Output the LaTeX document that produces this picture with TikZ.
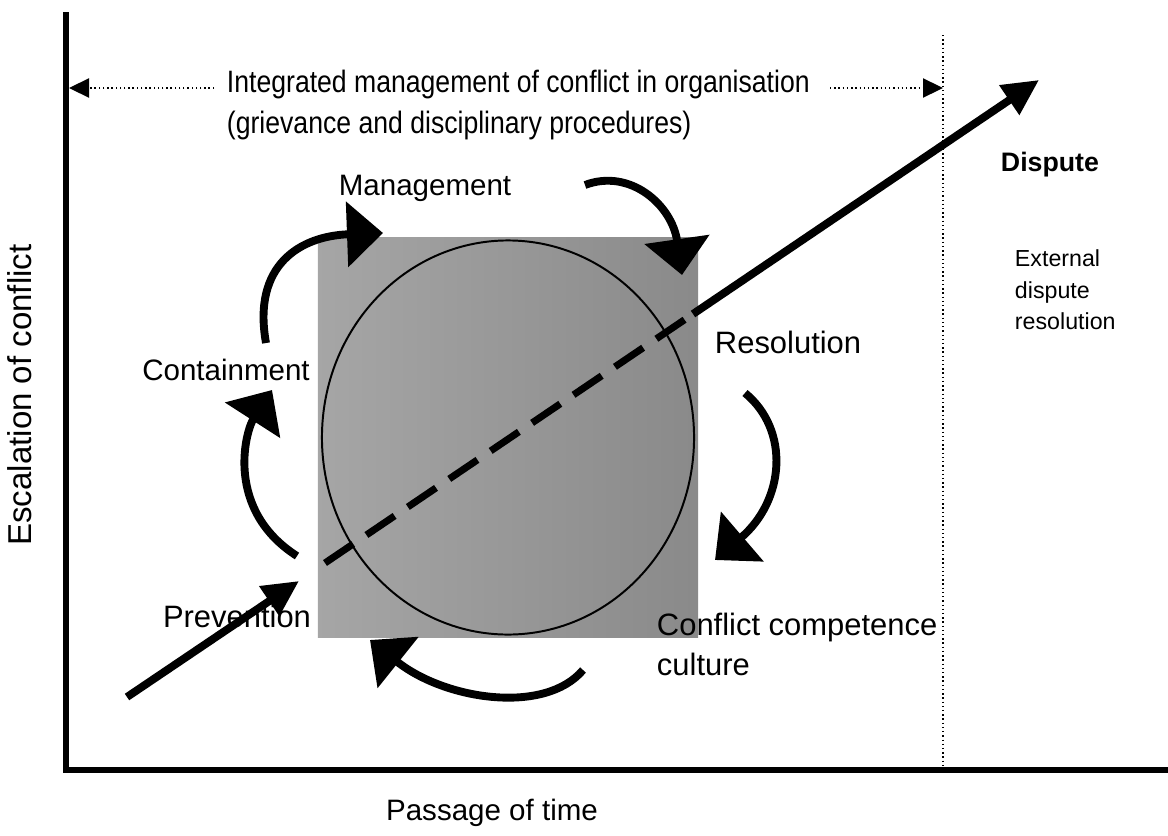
\documentclass[tikz,border=0pt]{standalone}
\usepackage{fontspec}
\setmainfont{Liberation Sans}
\newfontfamily\narrowfont[FakeStretch=0.86]{Liberation Sans}
\usepackage{tikz}
\usetikzlibrary{arrows.meta}
\usetikzlibrary{positioning}

\begin{document}
\begin{tikzpicture}[x=0.025cm, y=-0.025cm]
  % Define styles for axes, arrows and labels
  \tikzset{
    axisline/.style={line width=4.2pt},
    turn/.style={line width=5.6pt, -{Triangle[length=0.9cm, width=1.6cm]}},
    escalate/.style={line width=5.6pt, -{Triangle[length=0.9cm, width=0.85cm]}},
    limit/.style={line width=1pt, dotted},
    cyclelabel/.style={font=\fontsize{21}{27}\selectfont, align=left},
    biglabel/.style={font=\fontsize{22}{28.5}\selectfont, align=left},
    sidenote/.style={font=\fontsize{16.5}{22.5}\selectfont, align=left}
  }
  \useasboundingbox (0,0) rectangle (1168,835);

  % Axes
  \coordinate (ytop) at (66,12);
  \coordinate (origin) at (66,770);
  \coordinate (xend) at (1168,770);
  \draw[axisline] (ytop) -- (origin) -- (xend);

  % Grey box and circle
  \node[left color=black!35, right color=black!46, minimum width=9.5cm, minimum height=9.975cm, inner sep=0pt] (core) at (508,437.5) {};
  \draw[line width=1.4pt] (core.center) ellipse [x radius=4.65cm, y radius=4.925cm];

  % Boundary of the organisation
  \coordinate (btop) at (943,35);
  \coordinate (bbot) at (943,768);
  \draw[limit] (btop) -- (bbot);
  \coordinate (lstart) at (214,88);
  \coordinate (ltip) at (69,88);
  \coordinate (rstart) at (830,88);
  \coordinate (rtip) at (943,88);
  \draw[limit, -{Triangle[length=0.5cm, width=0.48cm]}] (lstart) -- (ltip);
  \draw[limit, -{Triangle[length=0.5cm, width=0.48cm]}] (rstart) -- (rtip);

  % Escalation line
  \coordinate (p0) at (127,697);
  \coordinate (p1) at (299,581);
  \coordinate (p2) at (325,563);
  \coordinate (p3) at (693,314);
  \coordinate (p4) at (1039,80);
  \draw[escalate] (p0) -- (p1);
  \draw[line width=5pt, dash pattern=on 0.85cm off 0.4cm] (p2) -- (p3);
  \draw[escalate] (p3) -- (p4);

  % Cycle arrows
  \coordinate (m0) at (585,185);
  \coordinate (m1) at (682,275);
  \coordinate (c0) at (266,343);
  \coordinate (c1) at (383,233);
  \coordinate (l0) at (297,556);
  \coordinate (l1) at (272,390);
  \coordinate (r0) at (745,393);
  \coordinate (r1) at (715,560);
  \coordinate (b0) at (583,670);
  \coordinate (b1) at (370,640);
  \draw[turn] (m0) .. controls (630,168) and (672,205) .. (m1);
  \draw[turn] (c0) .. controls (252,265) and (300,236) .. (c1);
  \draw[turn] (l0) .. controls (225,510) and (245,432) .. (l1);
  \draw[turn] (r0) .. controls (790,430) and (785,500) .. (r1);
  \draw[turn] (b0) .. controls (545,715) and (445,700) .. (b1);

  % Labels
  \node[font=\narrowfont\fontsize{22}{29}\selectfont, align=left, anchor=west] (integrated) at (222,105) {Integrated management of conflict in organisation\\(grievance and disciplinary procedures)};
  \node[cyclelabel] (management) at (425,188) {Management};
  \node[cyclelabel] (containment) at (226,370) {Containment};
  \node[biglabel, anchor=west] (resolution) at (710,342) {Resolution};
  \node[biglabel] (prevention) at (237,616) {Prevention};
  \node[biglabel, anchor=west] (competence) at (652,644) {Conflict competence\\culture};
  \node[font=\fontsize{19}{23}\selectfont\bfseries, anchor=west] (dispute) at (996,165) {Dispute};
  \node[sidenote, anchor=west] (external) at (1010,290) {External\\dispute\\resolution};
  \node[cyclelabel] (time) at (492,813) {Passage of time};
  \node[font=\fontsize{23.5}{28}\selectfont, rotate=90] (escalation) at (20,395) {Escalation of conflict};
\end{tikzpicture}
\end{document}
